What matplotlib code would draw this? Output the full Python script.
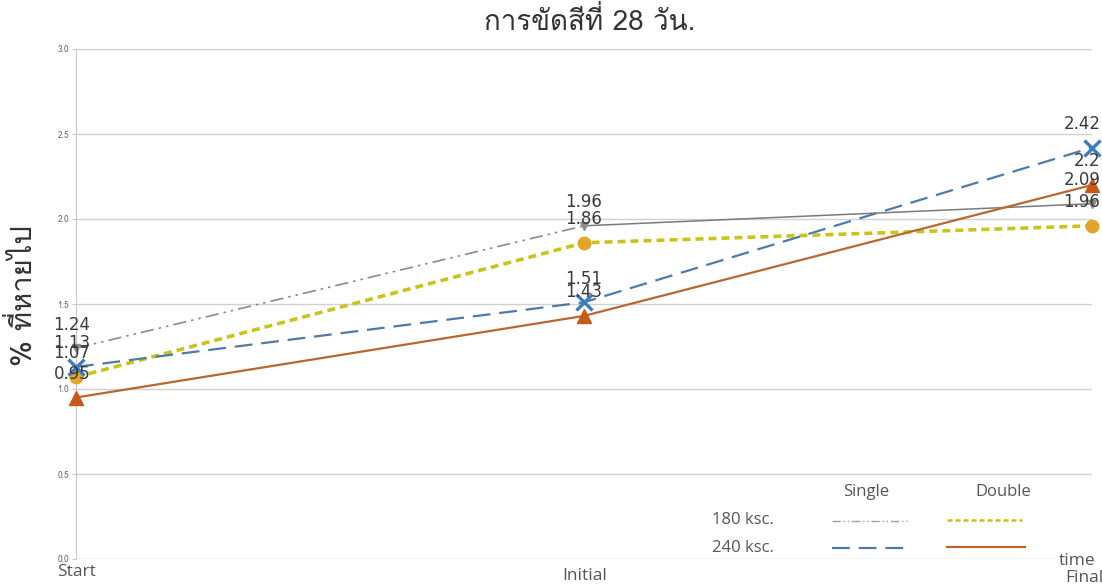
import matplotlib
matplotlib.use("Agg")
import matplotlib.pyplot as plt
from matplotlib import font_manager
from matplotlib.ft2font import FT2Font
from matplotlib.lines import Line2D

# ---------------- data ----------------
categories = ["Start", "Initial", "Final"]
s180_single = [1.24, 1.96, 2.09]
s180_double = [1.07, 1.86, 1.96]
s240_single = [1.13, 1.51, 2.42]
s240_double = [0.95, 1.43, 2.20]
y_ticks = [0.0, 0.5, 1.0, 1.5, 2.0, 2.5, 3.0]
title_text = "การขัดสีที่ 28 วัน."
ylabel_text = "% ที่หายไป"

# ---------------- fonts: find a family with Thai glyphs ----------------
thai_family = None
for f in font_manager.fontManager.ttflist:
    try:
        cm = FT2Font(f.fname).get_charmap()
        if ord("ก") in cm and ord("ห") in cm:
            thai_family = f.name
            break
    except Exception:
        continue
fam = [thai_family, "DejaVu Sans"] if thai_family else ["DejaVu Sans"]
plt.rcParams["font.family"] = fam
latin = ["Open Sans", "DejaVu Sans"]

fig = plt.figure(figsize=(11.02, 5.85), dpi=100)
ax = fig.add_axes([76 / 1102, 26 / 585, 1016 / 1102, 510 / 585])
x = list(range(len(categories)))

c_gray = "#8a8a8a"
c_yel = "#c9c31c"
c_gold = "#e2a52a"
c_blue = "#4f7aa6"
c_bluem = "#3c7dc0"
c_org = "#b8672e"
c_orgm = "#c75a16"

# 180 single: dash-dot-dot first segment, solid second
ax.plot(x[:2], s180_single[:2], color=c_gray, lw=1.2, dashes=[8, 3, 1.5, 3, 1.5, 3], zorder=3)
ax.plot(x[1:], s180_single[1:], color="#7a7a7a", lw=1.1, zorder=3)
ax.plot(x, s180_single, ls="none", marker="v", ms=6, color="#8c8c8c", zorder=5, clip_on=False)
# 180 double
ax.plot(x, s180_double, color=c_yel, lw=2.6, dashes=[2.2, 1.4], zorder=3)
ax.plot(x, s180_double, ls="none", marker="o", ms=9, color=c_gold, zorder=5, clip_on=False)
# 240 single
ax.plot(x, s240_single, color=c_blue, lw=1.6, dashes=[8, 4], zorder=3)
ax.plot(x, s240_single, ls="none", marker="x", ms=11, mew=2.4, color=c_bluem, zorder=6, clip_on=False)
# 240 double
ax.plot(x, s240_double, color=c_org, lw=1.6, zorder=3)
ax.plot(x, s240_double, ls="none", marker="^", ms=10, color=c_orgm, zorder=5, clip_on=False)

# data labels
for series in (s180_single, s180_double, s240_single, s240_double):
    for i, v in enumerate(series):
        ha = "center" if i < 2 else "right"
        dx = -3 if i == 0 else (0 if i == 1 else 6)
        ax.annotate(f"{v:g}", (x[i], v), xytext=(dx, 17), textcoords="offset points",
                    ha=ha, va="center", fontsize=12, color="#3a3a3a", zorder=7,
                    annotation_clip=False, family=["DejaVu Sans"])

ax.set_xlim(0, 2)
ax.set_ylim(0, 3)
ax.set_yticks(y_ticks)
ax.set_yticklabels([f"{t:.1f}" for t in y_ticks], fontsize=6, color="#666666")
ax.yaxis.grid(True, color="#d0d0d0", lw=1)
ax.set_axisbelow(True)
ax.set_xticks(x)
ax.set_xticklabels([])
for s in ("top", "right", "bottom"):
    ax.spines[s].set_visible(False)
ax.spines["left"].set_color("#c8c8c8")
ax.tick_params(axis="y", length=3, color="#c8c8c8", pad=2)
ax.tick_params(axis="x", length=0)

# x category labels
tc = "#555555"
fig.text(76 / 1102, 1 - 572 / 585, categories[0], ha="center", va="center", fontsize=12.5, color=tc, family=latin)
fig.text(585 / 1102, 1 - 576 / 585, categories[1], ha="center", va="center", fontsize=12.5, color=tc, family=latin)
fig.text(1084 / 1102, 1 - 578 / 585, categories[2], ha="center", va="center", fontsize=12.5, color=tc, family=latin)
fig.text(1077 / 1102, 1 - 561 / 585, "time", ha="center", va="center", fontsize=12.5, color=tc, family=latin)

# title and y label
fig.text(590 / 1102, 1 - 21 / 585, title_text, ha="center", va="center", fontsize=20, color="#333333")
fig.text(23 / 1102, 1 - 296 / 585, ylabel_text, ha="center", va="center", fontsize=21,
         color="#333333", rotation=90)

# custom legend table
lc = "#555555"
fig.text(866 / 1102, 1 - 492 / 585, "Single", ha="center", va="center", fontsize=12, color=lc, family=latin)
fig.text(1003 / 1102, 1 - 492 / 585, "Double", ha="center", va="center", fontsize=12, color=lc, family=latin)
fig.text(743 / 1102, 1 - 520 / 585, "180 ksc.", ha="center", va="center", fontsize=12, color=lc, family=latin)
fig.text(743 / 1102, 1 - 548 / 585, "240 ksc.", ha="center", va="center", fontsize=12, color=lc, family=latin)

def leg_line(x0, x1, y, **kw):
    fig.add_artist(Line2D([x0 / 1102, x1 / 1102], [1 - y / 585, 1 - y / 585], **kw))

leg_line(832, 908, 521, color="#a0a0a0", lw=1.0, dashes=[6, 2, 1, 2, 1, 2])
leg_line(947, 1022, 520, color=c_yel, lw=1.8, dashes=[2, 1.2])
leg_line(832, 910, 548, color=c_blue, lw=1.6, dashes=[8, 4])
leg_line(947, 1025, 547, color=c_org, lw=1.6)

fig.savefig("out.png", dpi=100)
